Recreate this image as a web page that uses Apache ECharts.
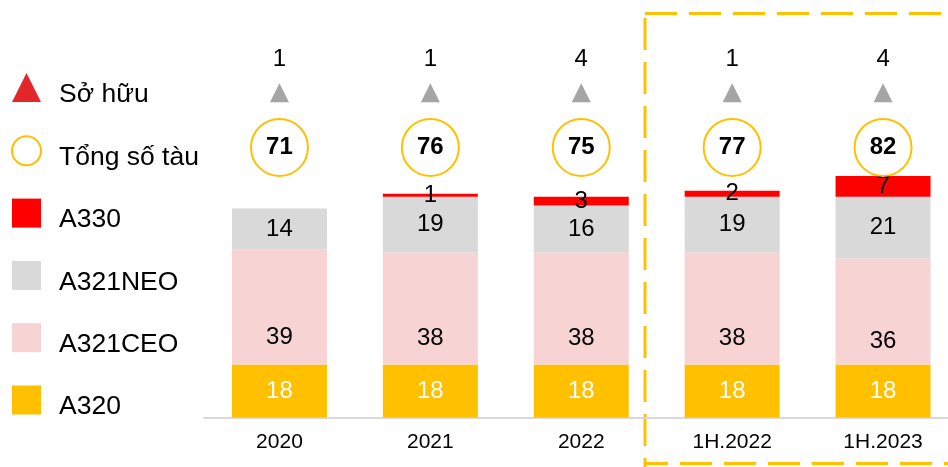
<!DOCTYPE html>
<html><head><meta charset="utf-8">
<script src="https://cdn.jsdelivr.net/npm/echarts@6/dist/echarts.min.js"></script>
<style>html,body{margin:0;padding:0;background:#fff}#chart{width:948px;height:467px}</style>
</head><body><div id="chart"></div>
<script>
// ---- data ----
const categories = ['2020', '2021', '2022', '1H.2022', '1H.2023'];
const a320 = [18, 18, 18, 18, 18];
const a321ceo = [39, 38, 38, 38, 36];
const a321neo = [14, 19, 16, 19, 21];
const a330 = [0, 1, 3, 2, 7];
const totals = [71, 76, 75, 77, 82];
const owned = [1, 1, 4, 1, 4];

// ---- layout constants (not data) ----
const FONT = 'Liberation Sans, Arial, sans-serif';
const Y_MAX = 130;
const TOTAL_ROW = 91.7;   // y-level of total circles in axis units
const OWNED_ROW = 110.3;  // y-level of owned triangles

const chart = echarts.init(document.getElementById('chart'), null, {renderer: 'canvas'});

const barLabel = (color, offset) => ({
  show: true, position: 'inside', offset: offset || [0, 0],
  color: color, fontSize: 24, fontFamily: FONT,
  formatter: p => (p.value === 0 ? '' : String(p.value))
});

const option = {
  animation: false,
  backgroundColor: '#fff',
  textStyle: {fontFamily: FONT},
  grid: {left: 204, width: 754.5, top: 417.5 - Y_MAX * 2.945, bottom: 49.5,
         containLabel: false, outerBoundsMode: 'none'},
  legend: {
    orient: 'vertical', left: 11, top: 73, padding: 0,
    itemWidth: 29, itemHeight: 29, itemGap: 27.3,
    selectedMode: false,
    formatter: '{t|{name}}',
    textStyle: {
      fontSize: 26.5, color: '#000', fontFamily: FONT,
      rich: {t: {fontSize: 26.5, color: '#000', fontFamily: FONT, padding: [14, 0, 0, 13]}}
    },
    data: [
      {name: 'Sở hữu', icon: 'triangle', itemStyle: {color: '#E3262A', borderWidth: 0, opacity: 1}},
      {name: 'Tổng số tàu', icon: 'circle', itemStyle: {color: 'rgba(255,255,255,0)', borderColor: '#FFC000', borderWidth: 2, opacity: 1}},
      {name: 'A330', icon: 'rect', itemStyle: {color: '#FF0000'}},
      {name: 'A321NEO', icon: 'rect', itemStyle: {color: '#D9D9D9'}},
      {name: 'A321CEO', icon: 'rect', itemStyle: {color: '#F8D3D4'}},
      {name: 'A320', icon: 'rect', itemStyle: {color: '#FFC000'}}
    ]
  },
  xAxis: {
    type: 'category', data: categories,
    axisLine: {show: true, lineStyle: {color: '#D9D9D9', width: 2}},
    axisTick: {show: false},
    axisLabel: {color: '#000', fontSize: 21, fontFamily: FONT, margin: 14},
    splitLine: {show: false}
  },
  yAxis: {type: 'value', min: 0, max: Y_MAX, show: false, splitLine: {show: false}},
  series: [
    {name: 'A320', type: 'bar', stack: 'fleet', barWidth: 95, data: a320,
     itemStyle: {color: '#FFC000'}, label: barLabel('#fff'), silent: true},
    {name: 'A321CEO', type: 'bar', stack: 'fleet', barWidth: 95, data: a321ceo,
     itemStyle: {color: '#F8D3D4'}, label: barLabel('#000', [0, 30]), silent: true},
    {name: 'A321NEO', type: 'bar', stack: 'fleet', barWidth: 95, data: a321neo,
     itemStyle: {color: '#D9D9D9'}, label: barLabel('#000'), silent: true},
    {name: 'A330', type: 'bar', stack: 'fleet', barWidth: 95, data: a330,
     itemStyle: {color: '#FF0000'}, label: barLabel('#000'), silent: true},
    {name: 'Tổng số tàu', type: 'scatter', symbol: 'circle', symbolSize: 57, z: 5, silent: true,
     data: totals.map((v, i) => ({value: [i, TOTAL_ROW], total: v})),
     itemStyle: {color: 'rgba(255,255,255,0)', borderColor: '#FFC000', borderWidth: 2, opacity: 1},
     label: {show: true, position: 'inside', color: '#000', fontSize: 24, fontWeight: 'bold', fontFamily: FONT,
             formatter: p => String(totals[p.dataIndex])}},
    {name: 'Sở hữu', type: 'scatter', symbol: 'triangle', symbolSize: [19, 19], z: 5, silent: true,
     data: owned.map((v, i) => ({value: [i, OWNED_ROW], owned: v})),
     itemStyle: {color: '#A5A5A5', opacity: 1},
     label: {show: true, position: 'inside', offset: [0, -33], color: '#000', fontSize: 24, fontFamily: FONT,
             formatter: p => String(owned[p.dataIndex])}}
  ],
  graphic: [
    {type: 'line', silent: true, shape: {x1: 645, y1: 13.5, x2: 960, y2: 13.5},
     style: {stroke: '#FFC000', lineWidth: 3, lineDash: [32, 12]}},
    {type: 'line', silent: true, shape: {x1: 645, y1: 18, x2: 645, y2: 467},
     style: {stroke: '#FFC000', lineWidth: 3, lineDash: [32, 12]}},
    {type: 'line', silent: true, shape: {x1: 645, y1: 463.5, x2: 960, y2: 463.5},
     style: {stroke: '#FFC000', lineWidth: 3, lineDash: [32, 12], lineDashOffset: 9}}
  ]
};
chart.setOption(option);
</script></body></html>
